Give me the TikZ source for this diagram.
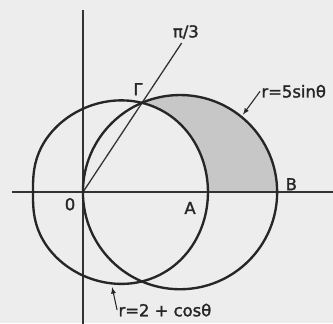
\documentclass[tikz,border=0pt]{standalone}
\usepackage{fontspec}
\setmainfont{DejaVu Sans}
\newfontfamily\scanfont{DejaVu Sans}[FakeBold=1.6]
\usepackage{tikz}
\usetikzlibrary{calc}

\begin{document}
\begin{tikzpicture}[
        x=1.25cm,
        y=1.25cm,
        axis line/.style={line width=1.1pt,black!80},
        polar curve/.style={line width=2pt,black!85},
        shaded part/.style={fill=black!22},
        point label/.style={font=\scanfont\fontsize{14}{16}\selectfont,inner sep=1pt,black!85},
        pointer/.style={line width=0.9pt,black!85,-latex}
    ]
        % The scanned page and the frame of the figure.
        \fill[black!7] (-1.99,-3.14) rectangle (6.0,4.61);
        \useasboundingbox (-1.99,-3.14) rectangle (6.0,4.61);

        % Inside the circle, outside the limacon, above the axis.
        \fill[shaded part]
            plot[variable=\t,domain=0:56.5,samples=40,smooth]
                ({4.66*cos(\t)*cos(\t)},{4.66*cos(\t)*sin(\t)})
            -- plot[variable=\t,domain=57.7:0,samples=40,smooth]
                ({(2+cos(\t))*cos(\t)*(1.1-0.1*cos(\t))},{(2+cos(\t))*sin(\t)})
            -- cycle;

        % The axes and the ray at pi/3.
        \coordinate (origin) at (0,0);
        \draw[axis line] (-1.70,0) -- (6.1,0);
        \draw[axis line] (0,4.37) -- (0,-3.2);
        \draw[axis line] (origin) -- (56.5:4.29);

        % The two curves.
        \draw[polar curve] (2.33,0) circle [radius=2.33];
        \draw[polar curve]
            plot[variable=\t,domain=0:357,samples=120,smooth cycle]
                ({(2+cos(\t))*cos(\t)*(1.1-0.1*cos(\t))},{(2+cos(\t))*sin(\t)});

        % Points on the axes.
        \node[point label] (gamma) at (1.32,2.47) {Γ};
        \node[point label] (pithird) at (2.47,3.84) {π/3};
        \node[point label] (zero) at (-0.31,-0.29) {0};
        \node[point label] (apoint) at (2.57,-0.38) {A};
        \node[point label] (bpoint) at (5.0,0.19) {B};

        % Names of the curves.
        \node[point label,anchor=west] (circlelabel) at (4.25,2.42) {r=5sinθ};
        \coordinate (circletip) at (3.84,1.86);
        \draw[pointer] (circlelabel.west) -- (circletip);
        \node[point label,anchor=west] (limalabel) at (0.82,-2.83) {r=2 + cosθ};
        \coordinate (limatip) at (0.70,-2.28);
        \draw[pointer] (limalabel.west) -- (limatip);
    \end{tikzpicture}
\end{document}
